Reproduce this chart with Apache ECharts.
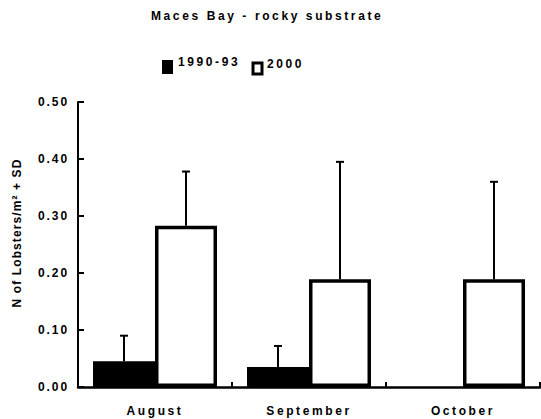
<!DOCTYPE html>
<html>
<head>
<meta charset="utf-8">
<script src="https://cdn.jsdelivr.net/npm/echarts@6/dist/echarts.min.js"></script>
<style>
html,body{margin:0;padding:0;background:#fff;}
#chart{width:541px;height:419px;}
</style>
</head>
<body>
<div id="chart"></div>
<script>
// ---- data ----
var categories = ['August', 'September', 'October'];
var seriesNames = ['1990-93', '2000'];
var mean1990 = [0.045, 0.035, 0.0];
var sd1990 = [0.045, 0.037, 0.0];
var mean2000 = [0.283, 0.189, 0.189];
var sd2000 = [0.095, 0.206, 0.171];
var yTicks = [0.0, 0.1, 0.2, 0.3, 0.4, 0.5];
var titleText = 'Maces Bay - rocky substrate';
var yTitle = 'N of Lobsters/m\u00B2 + SD';

var FONT = '"Liberation Sans", Arial, sans-serif';
var FS = 12;
var BAR_W = 62;

function errData(means, sds) {
  return means.map(function (m, i) { return [i, m, sds[i]]; });
}
function errRender(offset) {
  return function (params, api) {
    var sd = api.value(2);
    if (!sd) return null;
    var mean = api.value(1);
    var base = api.coord([api.value(0), mean]);
    var top = api.coord([api.value(0), mean + sd]);
    var x = base[0] + offset;
    var st = { stroke: '#000', lineWidth: 2 };
    return {
      type: 'group',
      children: [
        { type: 'line', shape: { x1: x, y1: base[1], x2: x, y2: top[1] }, style: st },
        { type: 'line', shape: { x1: x - 4, y1: top[1], x2: x + 4, y2: top[1] }, style: st }
      ]
    };
  };
}

var legendText = {
  fontFamily: FONT, fontSize: FS, fontWeight: 'bold', color: '#000',
  rich: { a: { fontFamily: FONT, fontSize: FS, fontWeight: 'bold', color: '#000', padding: [0, 0, 10, 0] } }
};

var chart = echarts.init(document.getElementById('chart'), null, { renderer: 'svg' });
var option = {
  animation: false,
  backgroundColor: '#fff',
  title: {
    text: titleText,
    left: 151,
    top: 10,
    padding: 0,
    textAlign: 'left',
    textStyle: { fontFamily: FONT, fontSize: FS, fontWeight: 'bold', color: '#000' }
  },
  legend: [
    {
      left: 162, top: 56, orient: 'horizontal', padding: 0,
      itemWidth: 11, itemHeight: 14, icon: 'rect',
      formatter: '{a|{name}}',
      data: [{ name: seriesNames[0], itemStyle: { color: '#000', borderWidth: 0 } }],
      textStyle: legendText
    },
    {
      left: 251.5, top: 57.5, orient: 'horizontal', padding: 0,
      itemWidth: 9, itemHeight: 11, icon: 'rect',
      formatter: '{a|{name}}',
      data: [{ name: seriesNames[1], itemStyle: { color: '#fff', borderColor: '#000', borderWidth: 3 } }],
      textStyle: legendText
    }
  ],
  grid: { left: 78, right: 1, top: 102, bottom: 32, containLabel: false },
  xAxis: {
    type: 'category',
    data: categories,
    axisLine: { lineStyle: { color: '#000', width: 2.5 } },
    axisTick: { show: true, inside: true, length: 5, lineStyle: { color: '#000', width: 2 } },
    axisLabel: { margin: 18, fontFamily: FONT, fontSize: FS, fontWeight: 'bold', color: '#000' },
    splitLine: { show: false }
  },
  yAxis: {
    type: 'value',
    min: yTicks[0],
    max: yTicks[yTicks.length - 1],
    interval: yTicks[1] - yTicks[0],
    axisLine: { show: true, lineStyle: { color: '#000', width: 2 } },
    axisTick: { show: true, inside: true, length: 6, lineStyle: { color: '#000', width: 2 } },
    axisLabel: {
      margin: 9, fontFamily: FONT, fontSize: FS, fontWeight: 'bold', color: '#000',
      formatter: function (v) { return v.toFixed(2); }
    },
    splitLine: { show: false }
  },
  graphic: [
    {
      type: 'text',
      x: 17, y: 233,
      rotation: Math.PI / 2,
      style: {
        text: yTitle,
        fontFamily: FONT, fontSize: FS, fontWeight: 'bold', fill: '#000',
        align: 'center', verticalAlign: 'middle'
      }
    }
  ],
  series: [
    {
      name: seriesNames[0], type: 'bar', data: mean1990,
      barWidth: BAR_W, barGap: '0%',
      itemStyle: { color: '#000' }
    },
    {
      name: seriesNames[1], type: 'bar', data: mean2000,
      barWidth: BAR_W, barGap: '0%',
      itemStyle: { color: '#fff', borderColor: '#000', borderWidth: 3.5 }
    },
    {
      type: 'custom', name: 'err1', renderItem: errRender(-BAR_W / 2),
      data: errData(mean1990, sd1990), z: 5, silent: true
    },
    {
      type: 'custom', name: 'err2', renderItem: errRender(BAR_W / 2),
      data: errData(mean2000, sd2000), z: 5, silent: true
    }
  ]
};
chart.setOption(option);

function applySpacing() {
  var texts = document.querySelectorAll('#chart svg text');
  texts.forEach(function (t) {
    var s = t.textContent || '';
    var ls = '2.6px';
    if (/^\d\.\d\d$/.test(s)) ls = '1.9px';
    else if (s.indexOf('Lobsters') >= 0) ls = '1.1px';
    t.style.letterSpacing = ls;
  });
}
try { chart.getZr().flush(); } catch (e) {}
applySpacing();
chart.on('finished', applySpacing);
setTimeout(applySpacing, 50);
setTimeout(applySpacing, 300);
</script>
</body>
</html>
